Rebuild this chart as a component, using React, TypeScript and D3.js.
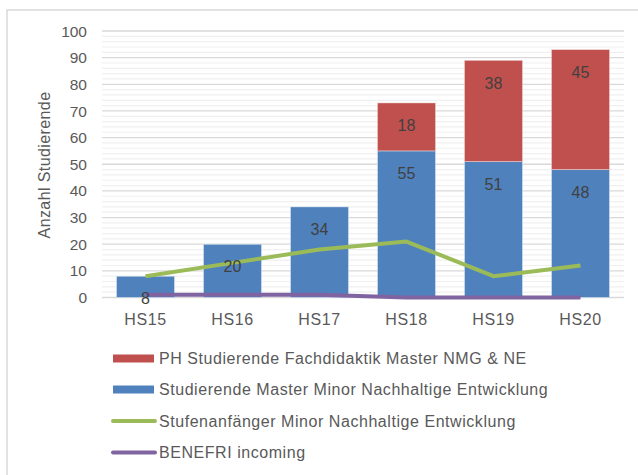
import React from "react";
import * as d3 from "d3";

const categories = ["HS15", "HS16", "HS17", "HS18", "HS19", "HS20"];
const masterMinor = [8, 20, 34, 55, 51, 48];
const phFachdidaktik = [0, 0, 0, 18, 38, 45];
const stufenanfaenger = [8, 13, 18, 21, 8, 12];
const benefri = [1, 1, 1, 0, 0, 0];
const yTicks = [0, 10, 20, 30, 40, 50, 60, 70, 80, 90, 100];
const legendLabels = [
  "PH Studierende Fachdidaktik Master NMG & NE",
  "Studierende Master Minor Nachhaltige Entwicklung",
  "Stufenanfänger Minor Nachhaltige Entwicklung",
  "BENEFRI incoming",
];

const W = 638;
const H = 475;
const FONT = "'Liberation Sans', Arial, sans-serif";

export default function App() {
  const x = d3.scaleBand<string>().domain(categories).range([102, 624]).paddingInner(0.333).paddingOuter(0.1665);
  const y = d3.scaleLinear().domain([0, 100]).range([297.5, 31]);
  const minor = d3.range(0, 101, 2).filter((v) => v % 10 !== 0);
  const bw = x.bandwidth();
  const cx = (c: string) => (x(c) as number) + bw / 2;
  const line = d3
    .line<number>()
    .x((_, i) => cx(categories[i]))
    .y((v) => y(v));

  const legendColors = ["#c0504d", "#4f81bd", "#9bbb59", "#8064a2"];
  const legendY = [358.5, 389.5, 421, 452.5];

  return (
    <svg width={W} height={H} style={{ position: "absolute", left: 0, top: 0, background: "#fff" }} fontFamily={FONT}>
      <rect x={7} y={10} width={W + 20} height={H + 20} fill="#fff" stroke="#d9d9d9" strokeWidth={1.5} />
      {minor.map((v) => (
        <line key={"m" + v} x1={102} x2={624} y1={y(v)} y2={y(v)} stroke="#f0f0f0" strokeWidth={1.2} />
      ))}
      {yTicks.map((v) => (
        <line key={"g" + v} x1={102} x2={624} y1={y(v)} y2={y(v)} stroke="#d9d9d9" strokeWidth={1.3} />
      ))}
      {yTicks.map((v) => (
        <text key={"t" + v} x={87} y={y(v)} dy="0.36em" textAnchor="end" fontSize={15.5} fill="#595959">
          {v}
        </text>
      ))}
      <text
        transform={`translate(50,165) rotate(-90)`}
        textAnchor="middle"
        fontSize={16}
        letterSpacing={0.4}
        fill="#595959"
      >
        Anzahl Studierende
      </text>
      {categories.map((c, i) => (
        <g key={"b" + c}>
          <rect x={x(c)} y={y(masterMinor[i])} width={bw} height={y(0) - y(masterMinor[i])} fill="#4f81bd" stroke="#e8eef6" strokeWidth={0.5} />
          {phFachdidaktik[i] > 0 && (
            <rect
              x={x(c)}
              y={y(masterMinor[i] + phFachdidaktik[i])}
              width={bw}
              height={y(masterMinor[i]) - y(masterMinor[i] + phFachdidaktik[i])}
              fill="#c0504d"
              stroke="#f2dcdb"
              strokeWidth={0.5}
            />
          )}
        </g>
      ))}
      <path d={line(stufenanfaenger) || ""} fill="none" stroke="#9bbb59" strokeWidth={4} strokeLinejoin="round" />
      <path d={line(benefri) || ""} fill="none" stroke="#8064a2" strokeWidth={4} strokeLinejoin="round" />
      {categories.map((c, i) => (
        <g key={"l" + c}>
          <text x={cx(c)} y={y(masterMinor[i]) + 22.5} dy="0.36em" textAnchor="middle" fontSize={16} fill="#404040">
            {masterMinor[i]}
          </text>
          {phFachdidaktik[i] > 0 && (
            <text
              x={cx(c)}
              y={y(masterMinor[i] + phFachdidaktik[i]) + 22.5}
              dy="0.36em"
              textAnchor="middle"
              fontSize={16}
              fill="#404040"
            >
              {phFachdidaktik[i]}
            </text>
          )}
        </g>
      ))}
      {categories.map((c) => (
        <text key={"x" + c} x={cx(c)} y={325} textAnchor="middle" fontSize={16} letterSpacing={0.6} fill="#595959">
          {c}
        </text>
      ))}
      {legendLabels.map((lab, i) => (
        <g key={"lg" + i}>
          {i < 2 ? (
            <rect x={113} y={legendY[i] - 4} width={41} height={8} fill={legendColors[i]} />
          ) : (
            <line x1={113} x2={155} y1={legendY[i]} y2={legendY[i]} stroke={legendColors[i]} strokeWidth={4} strokeLinecap="round" />
          )}
          <text x={159} y={legendY[i]} dy="0.36em" fontSize={16} letterSpacing={0.55} fill="#595959">
            {lab}
          </text>
        </g>
      ))}
    </svg>
  );
}
